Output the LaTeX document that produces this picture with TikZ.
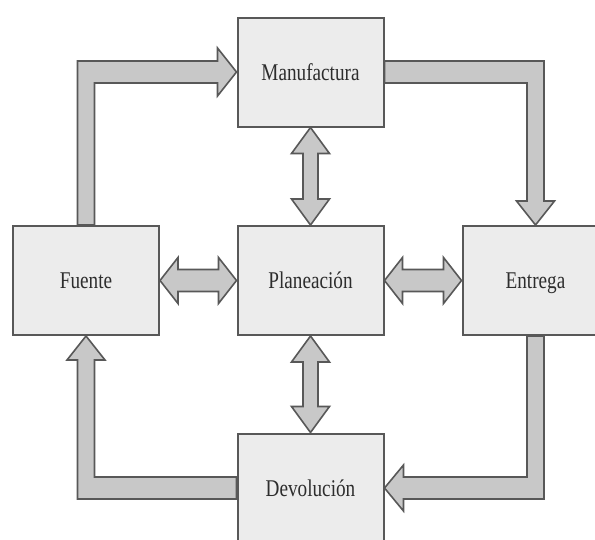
\documentclass[tikz,border=0pt]{standalone}
\usepackage{fontspec}
\setmainfont{Liberation Serif}[FakeStretch=0.8]
\usetikzlibrary{calc,backgrounds}
\definecolor{boxfill}{RGB}{236,236,236}
\definecolor{edgecol}{RGB}{88,88,88}
\definecolor{arrfill}{RGB}{200,200,200}
\definecolor{txtcol}{RGB}{45,45,45}
\tikzset{
  box/.style={draw=edgecol, line width=2pt, fill=boxfill, minimum width=146pt, minimum height=109pt,
    inner sep=0pt, text=txtcol, font=\fontsize{24}{28}\selectfont, text height=16pt, text depth=0pt},
  barrow/.style={draw=edgecol, line width=1.6pt, fill=arrfill, line join=miter}
}
\newcommand\hdblarrow[2]{%
  \draw[barrow] (#1) -- ($(#1)+(18,-23)$) -- ($(#1)+(18,-11)$) -- ($(#2)+(-18,-11)$) -- ($(#2)+(-18,-23)$)
    -- (#2) -- ($(#2)+(-18,23)$) -- ($(#2)+(-18,11)$) -- ($(#1)+(18,11)$) -- ($(#1)+(18,23)$) -- cycle;}
\newcommand\vdblarrow[2]{%
  \draw[barrow] (#1) -- ($(#1)+(19,26)$) -- ($(#1)+(7.5,26)$) -- ($(#2)+(7.5,-26)$) -- ($(#2)+(19,-26)$)
    -- (#2) -- ($(#2)+(-19,-26)$) -- ($(#2)+(-7.5,-26)$) -- ($(#1)+(-7.5,26)$) -- ($(#1)+(-19,26)$) -- cycle;}
\begin{document}
\begin{tikzpicture}[x=1pt,y=-1pt]
\useasboundingbox (0,0) rectangle (595,539);
\clip (0,0) rectangle (595,539);
\node[box] (man) at (310.5,72) {Manufactura};
\node[box] (fue) at (86,280.5) {Fuente};
\node[box] (pla) at (310.5,280.5) {Planeación};
\node[box] (ent) at (535.5,280.5) {Entrega};
\node[box] (dev) at (310.5,488) {Devolución};
\begin{scope}[on background layer]
\fill[white] (0,0) rectangle (595,539);
% Fuente -> Manufactura
\draw[barrow] ($(fue.north)+(-8.5,0)$) |- ($(man.west)+(-19,-11)$) -- ($(man.west)+(-19,-24)$) -- (man.west)
  -- ($(man.west)+(-19,24)$) -- ($(man.west)+(-19,11)$) -| ($(fue.north)+(8.5,0)$) -- cycle;
% Manufactura -> Entrega
\draw[barrow] ($(man.east)+(0,-11)$) -| ($(ent.north)+(8.5,-24)$) -- ($(ent.north)+(19,-24)$) -- (ent.north)
  -- ($(ent.north)+(-19,-24)$) -- ($(ent.north)+(-8.5,-24)$) |- ($(man.east)+(0,11)$) -- cycle;
% Entrega -> Devolucion
\draw[barrow] ($(ent.south)+(8.5,0)$) |- ($(dev.east)+(19,11)$) -- ($(dev.east)+(19,23)$) -- (dev.east)
  -- ($(dev.east)+(19,-23)$) -- ($(dev.east)+(19,-11)$) -| ($(ent.south)+(-8.5,0)$) -- cycle;
% Devolucion -> Fuente
\draw[barrow] ($(dev.west)+(0,11)$) -| ($(fue.south)+(-8.5,24)$) -- ($(fue.south)+(-19,24)$) -- (fue.south)
  -- ($(fue.south)+(19,24)$) -- ($(fue.south)+(8.5,24)$) |- ($(dev.west)+(0,-11)$) -- cycle;
% double arrows
\hdblarrow{fue.east}{pla.west}
\hdblarrow{pla.east}{ent.west}
\vdblarrow{man.south}{pla.north}
\vdblarrow{pla.south}{dev.north}
\end{scope}
\end{tikzpicture}
\end{document}
